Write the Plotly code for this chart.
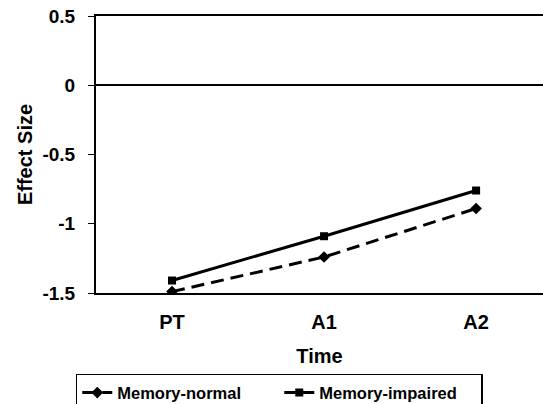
import plotly.graph_objects as go

times = ["PT", "A1", "A2"]
memory_normal = [-1.49, -1.24, -0.89]
memory_impaired = [-1.41, -1.09, -0.76]
y_ticks = [0.5, 0, -0.5, -1, -1.5]
y_tick_labels = ["0.5", "0", "-0.5", "-1", "-1.5"]

FONT = "Liberation Sans, Arial, sans-serif"

fig = go.Figure()
fig.add_trace(go.Scatter(
    x=times, y=memory_normal, name="Memory-normal", mode="lines+markers",
    line=dict(color="black", width=3, dash="13px,7px"),
    marker=dict(symbol="diamond", size=9, color="black"),
))
fig.add_trace(go.Scatter(
    x=times, y=memory_impaired, name="Memory-impaired", mode="lines+markers",
    line=dict(color="black", width=3),
    marker=dict(symbol="square", size=8, color="black"),
))

fig.update_layout(
    width=543, height=404,
    margin=dict(l=96, r=0, t=16, b=111, autoexpand=False),
    paper_bgcolor="white", plot_bgcolor="white",
    font=dict(family=FONT, size=20, color="black", weight="bold"),
    showlegend=True,
    legend=dict(
        orientation="h", x=0.41, xanchor="center", y=-0.292, yanchor="top",
        bordercolor="black", borderwidth=1.5, bgcolor="white",
        font=dict(size=16.5, family=FONT, weight="bold"),
        traceorder="normal", entrywidth=157,
    ),
)
fig.update_xaxes(
    type="category", range=[-0.5, 2.44],
    showline=True, linecolor="black", linewidth=2, mirror=True,
    showgrid=False, ticks="", ticklabelstandoff=10,
    title=dict(text="Time", font=dict(size=20, weight="bold"), standoff=17),
    tickfont=dict(size=20, weight="bold"),
)
fig.update_yaxes(
    range=[-1.5, 0.5], tickvals=y_ticks, ticktext=y_tick_labels,
    showline=True, linecolor="black", linewidth=2,
    ticks="outside", ticklen=6, tickcolor="black", tickwidth=1,
    ticklabelstandoff=9,
    showgrid=False, zeroline=True, zerolinecolor="black", zerolinewidth=1.5,
    title=dict(text="Effect Size", font=dict(size=20, weight="bold"), standoff=4),
    tickfont=dict(size=19, weight="bold"),
)

fig.write_html(
    "out.html",
    config={"displayModeBar": False},
    post_script="document.body.style.margin='0';document.body.style.overflow='hidden';",
)
